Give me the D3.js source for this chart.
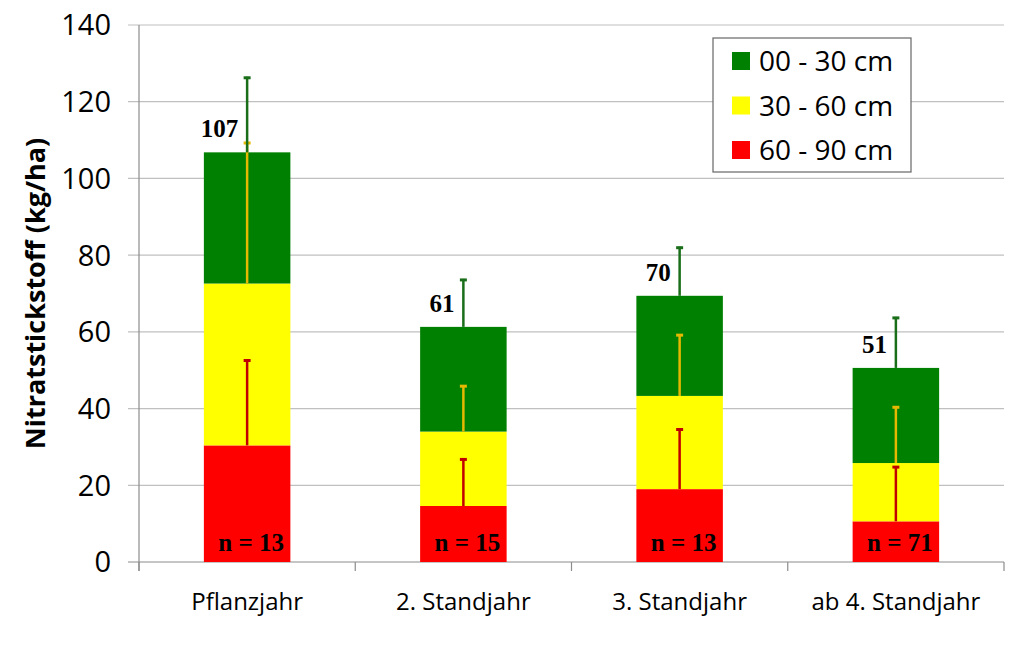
<!DOCTYPE html>
<html>
<head>
<meta charset="utf-8">
<script src="https://cdn.jsdelivr.net/npm/d3@7"></script>
<style>
  body { margin: 0; background: #fff; }
  svg { display: block; }
</style>
</head>
<body>
<div id="chart"></div>
<script>
var categories = ['Pflanzjahr', '2. Standjahr', '3. Standjahr', 'ab 4. Standjahr'];
var layerNames = ['60 - 90 cm', '30 - 60 cm', '00 - 30 cm'];
var layerColors = ['#ff0000', '#ffff00', '#008000'];
var errColors = ['#c00000', '#e6b800', '#1a6e1a'];

var red = [30.4, 14.6, 19.0, 10.6];
var yellow = [42.2, 19.4, 24.3, 15.2];
var green = [34.2, 27.3, 26.1, 24.8];

var redErr = [22.4, 12.4, 15.8, 14.4];
var yellowErr = [36.9, 12.1, 16.1, 14.8];
var greenErr = [19.7, 12.5, 12.8, 13.3];

var totalLabels = ['107', '61', '70', '51'];
var nLabels = ['n = 13', 'n = 15', 'n = 13', 'n = 71'];
var yTicks = [0, 20, 40, 60, 80, 100, 120, 140];

var width = 1024, height = 663;
var margin = {left: 139, right: 20, top: 25, bottom: 101};

var svg = d3.select('#chart').append('svg')
    .attr('width', width)
    .attr('height', height);

var x = d3.scaleBand()
    .domain(categories)
    .range([margin.left, width - margin.right])
    .paddingInner(0.6)
    .paddingOuter(0.3);

var y = d3.scaleLinear()
    .domain([0, 140])
    .range([height - margin.bottom, margin.top]);

// table for stacking
var rows = categories.map(function(c, i) {
  return {cat: c, r: red[i], y: yellow[i], g: green[i]};
});
var keys = ['r', 'y', 'g'];
var errs = [redErr, yellowErr, greenErr];
var series = d3.stack().keys(keys)(rows);

// gridlines (start a little left of the axis like the original)
svg.append('g')
  .selectAll('line')
  .data(yTicks)
  .join('line')
    .attr('x1', margin.left - 11)
    .attr('x2', width - margin.right)
    .attr('y1', function(d) { return y(d); })
    .attr('y2', function(d) { return y(d); })
    .attr('stroke', function(d) { return d === 0 ? '#8c8c8c' : '#c0c0c0'; })
    .attr('stroke-width', 1.2);

// y axis line
svg.append('line')
    .attr('x1', margin.left).attr('x2', margin.left)
    .attr('y1', y(140)).attr('y2', y(0) + 9)
    .attr('stroke', '#8c8c8c').attr('stroke-width', 1.2);

// x category separators
var step = x.step();
var bounds = d3.range(categories.length + 1).map(function(i) { return margin.left + i * step; });
svg.append('g')
  .selectAll('line')
  .data(bounds)
  .join('line')
    .attr('x1', function(d) { return d; })
    .attr('x2', function(d) { return d; })
    .attr('y1', y(0))
    .attr('y2', y(0) + 9)
    .attr('stroke', '#8c8c8c')
    .attr('stroke-width', 1.2);

// y tick labels
svg.append('g')
  .selectAll('text')
  .data(yTicks)
  .join('text')
    .attr('x', 111)
    .attr('y', function(d) { return y(d); })
    .attr('dy', '0.36em')
    .attr('text-anchor', 'end')
    .attr('font-family', 'Open Sans, sans-serif')
    .attr('font-size', 29)
    .attr('fill', '#000')
    .text(function(d) { return d; });

// y axis title
svg.append('text')
    .attr('transform', 'translate(45,' + ((y(0) + y(140)) / 2) + ') rotate(-90)')
    .attr('text-anchor', 'middle')
    .attr('font-family', 'Open Sans, sans-serif')
    .attr('font-weight', 'bold')
    .attr('font-size', 27)
    .text('Nitratstickstoff (kg/ha)');

// x labels
svg.append('g')
  .selectAll('text')
  .data(categories)
  .join('text')
    .attr('x', function(d) { return x(d) + x.bandwidth() / 2; })
    .attr('y', 610)
    .attr('text-anchor', 'middle')
    .attr('font-family', 'Open Sans, sans-serif')
    .attr('font-size', 24)
    .text(function(d) { return d; });

// bars
svg.append('g')
  .selectAll('g')
  .data(series)
  .join('g')
    .attr('fill', function(d, i) { return layerColors[i]; })
  .selectAll('rect')
  .data(function(d) { return d; })
  .join('rect')
    .attr('x', function(d) { return x(d.data.cat); })
    .attr('width', x.bandwidth())
    .attr('y', function(d) { return y(d[1]); })
    .attr('height', function(d) { return y(d[0]) - y(d[1]); });

// error bars (upper only), red then yellow then green
series.forEach(function(s, k) {
  var g = svg.append('g')
      .attr('stroke', errColors[k])
      .attr('stroke-width', 2.5);
  s.forEach(function(d, i) {
    var cx = x(d.data.cat) + x.bandwidth() / 2;
    var top = y(d[1] + errs[k][i]);
    g.append('line')
        .attr('x1', cx).attr('x2', cx)
        .attr('y1', y(d[1])).attr('y2', top);
    g.append('line')
        .attr('x1', cx - 3.5).attr('x2', cx + 3.5)
        .attr('y1', top + 1).attr('y2', top + 1)
        .attr('stroke-width', 3);
  });
});

// total labels
var totals = series[series.length - 1];
svg.append('g')
  .selectAll('text')
  .data(totals)
  .join('text')
    .attr('x', function(d) { return x(d.data.cat) + x.bandwidth() / 2 - 9; })
    .attr('y', function(d) { return y(d[1]) - 15; })
    .attr('text-anchor', 'end')
    .attr('font-family', 'Liberation Serif, Times New Roman, serif')
    .attr('font-weight', 'bold')
    .attr('font-size', 25)
    .text(function(d, i) { return totalLabels[i]; });

// n labels
svg.append('g')
  .selectAll('text')
  .data(categories)
  .join('text')
    .attr('x', function(d) { return x(d) + x.bandwidth() / 2 + 4; })
    .attr('y', y(0) - 11)
    .attr('text-anchor', 'middle')
    .attr('font-family', 'Liberation Serif, Times New Roman, serif')
    .attr('font-weight', 'bold')
    .attr('font-size', 25)
    .text(function(d, i) { return nLabels[i]; });

// legend
var legend = svg.append('g').attr('transform', 'translate(713,38)');
legend.append('rect')
    .attr('width', 198).attr('height', 134)
    .attr('fill', '#fff')
    .attr('stroke', '#666').attr('stroke-width', 1.2);
var legendItems = [2, 1, 0];
legendItems.forEach(function(k, j) {
  var row = legend.append('g').attr('transform', 'translate(0,' + (23 + j * 44.5) + ')');
  row.append('rect')
      .attr('x', 19).attr('y', -9)
      .attr('width', 18).attr('height', 18)
      .attr('fill', layerColors[k]);
  row.append('text')
      .attr('x', 46).attr('y', 0)
      .attr('dy', '0.36em')
      .attr('font-family', 'Open Sans, sans-serif')
      .attr('font-size', 28)
      .text(layerNames[k]);
});
</script>
</body>
</html>
